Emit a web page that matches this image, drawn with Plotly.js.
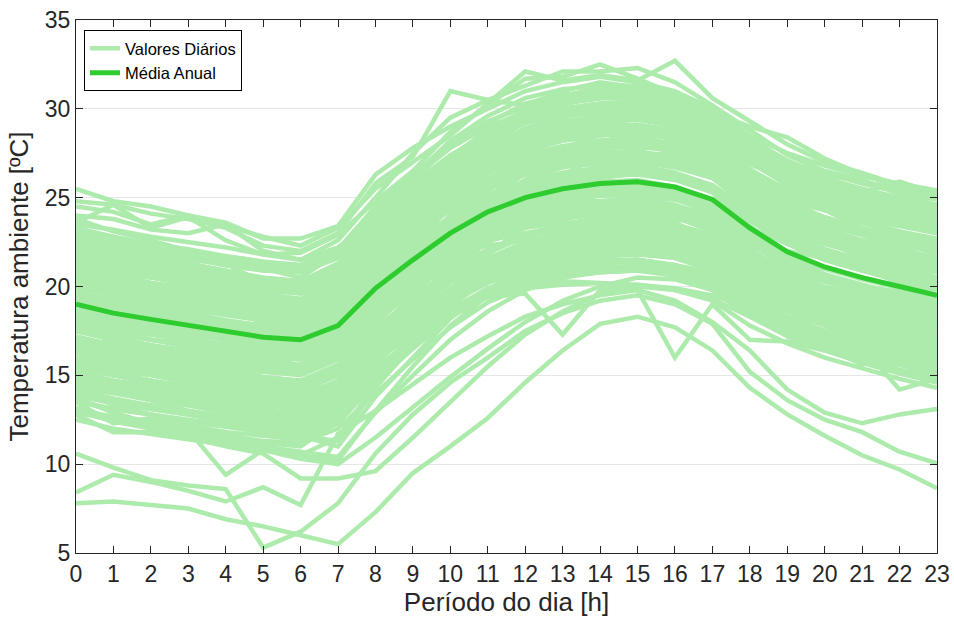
<!DOCTYPE html>
<html>
<head>
<meta charset="utf-8">
<script src="https://cdn.plot.ly/plotly-3.0.1.min.js"></script>
<style>html,body{margin:0;padding:0;background:#fff;}#chart{width:954px;height:623px;}</style>
</head>
<body>
<div id="chart"></div>
<script>
// Hours of the day
const hours = [0,1,2,3,4,5,6,7,8,9,10,11,12,13,14,15,16,17,18,19,20,21,22,23];
const hourTicks = ["0","1","2","3","4","5","6","7","8","9","10","11","12","13","14","15","16","17","18","19","20","21","22","23"];

// Annual mean (Média Anual)
const annualMean = [19.0,18.5,18.15,17.8,17.45,17.15,17.0,17.8,19.9,21.5,23.0,24.2,25.0,25.5,25.8,25.9,25.6,24.9,23.3,21.95,21.1,20.5,20.0,19.5];

// Daily values (Valores Diários) — each row is one day
const dailyHot = [
  [25.5,24.8,24.5,24.0,23.6,22.7,22.7,23.4,26.3,27.8,29.0,30.0,31.0,31.5,31.8,31.5,31.0,30.0,28.5,27.5,26.8,26.2,25.8,25.4],
  [24.8,24.6,24.1,23.8,23.3,22.3,22.0,23.0,25.8,27.3,31.0,30.5,30.2,31.0,31.5,31.2,30.5,29.8,29.0,28.4,27.2,26.3,25.6,25.0],
  [24.5,24.2,23.5,24.0,23.4,22.8,22.3,23.3,25.5,27.0,28.5,30.3,32.1,31.6,31.9,31.6,32.7,30.6,29.3,28.0,27.0,26.4,25.7,25.0],
  [24.0,23.8,23.2,23.0,23.5,22.0,21.5,22.6,25.0,27.5,29.5,30.5,31.3,32.1,32.1,32.3,31.5,30.2,28.8,27.4,26.5,26.0,25.2,24.6],
  [23.6,24.6,23.3,23.9,22.6,21.8,21.9,22.9,24.8,26.5,28.7,30.2,31.7,31.8,32.5,31.7,30.8,29.7,28.3,27.1,26.2,25.3,25.9,25.2]
];
const dailyCold = [
  [10.6,9.8,9.1,8.8,8.6,5.3,6.2,7.8,10.6,12.8,14.6,16.0,17.5,18.5,19.2,19.5,19.0,17.9,15.2,13.6,12.5,11.8,10.7,10.05],
  [8.4,9.4,9.0,8.5,7.9,8.7,7.7,11.7,13.0,14.5,16.0,17.2,18.3,19.0,19.5,19.8,19.2,18.0,16.4,14.2,12.9,12.3,12.8,13.1],
  [7.8,7.9,7.7,7.5,6.9,6.5,6.0,5.5,7.3,9.5,11.0,12.6,14.6,16.4,17.9,18.3,17.7,16.4,14.3,12.8,11.6,10.5,9.7,8.65]
];
const dailyCore = [
  [22.8,22.4,21.9,21.6,21.2,20.9,20.8,21.6,23.8,25.6,27.2,28.5,29.4,30.0,30.3,30.4,30.0,29.2,27.6,26.4,25.6,25.0,24.5,24.0],
  [23.2,22.5,22.3,21.8,21.5,21.0,20.5,21.9,24.5,26.0,27.9,29.2,30.3,30.8,31.0,31.0,30.5,29.5,28.0,26.8,25.9,25.3,24.6,24.2],
  [22.0,21.7,21.4,21.2,20.7,20.4,20.1,21.0,23.0,24.8,26.4,27.6,28.6,29.2,29.6,29.7,29.3,28.6,27.0,25.7,24.9,24.3,23.8,23.3],
  [21.5,21.0,20.6,20.4,20.0,19.8,19.6,20.3,22.5,24.1,25.8,27.1,28.0,28.6,28.9,29.0,28.7,28.0,26.4,25.1,24.3,23.7,23.1,22.7],
  [23.0,22.8,22.1,21.5,21.3,20.2,20.0,21.2,24.0,25.2,26.8,28.0,28.8,29.3,29.5,29.4,29.0,28.4,26.9,26.0,25.1,24.6,24.2,23.8],
  [20.8,20.4,20.1,19.8,19.5,19.2,19.0,19.8,21.9,23.5,25.1,26.4,27.3,27.9,28.2,28.3,28.0,27.3,25.7,24.4,23.5,22.9,22.4,21.9],
  [21.8,21.2,20.8,20.2,19.9,19.5,19.3,20.4,22.8,24.6,26.3,27.4,28.3,28.9,29.3,29.0,28.5,27.5,25.9,24.6,23.9,23.2,22.6,22.0],
  [20.2,19.9,19.6,19.3,19.0,18.7,18.5,19.3,21.3,22.9,24.4,25.6,26.5,27.0,27.3,27.4,27.1,26.4,24.8,23.5,22.6,22.0,21.5,21.0],
  [19.6,19.3,19.0,18.7,18.4,18.1,17.9,18.7,20.8,22.3,23.8,25.1,25.9,26.4,26.7,26.8,26.4,25.7,24.1,22.8,22.0,21.4,20.9,20.4],
  [20.5,19.7,19.3,19.1,18.6,18.4,18.3,19.1,21.0,22.7,24.6,25.8,26.8,27.5,27.8,28.0,27.6,26.7,25.2,23.7,22.7,22.3,21.7,21.3],
  [18.6,18.2,17.8,17.6,17.2,16.9,16.8,17.6,19.7,21.3,22.8,24.0,24.8,25.3,25.6,25.7,25.4,24.7,23.1,21.8,21.0,20.4,19.9,19.4],
  [18.0,17.6,17.3,17.0,16.6,16.3,16.2,17.1,19.2,20.8,22.4,23.6,24.5,24.9,25.2,25.3,25.0,24.3,22.7,21.4,20.6,20.0,19.4,19.0],
  [17.5,17.2,16.7,16.4,16.1,15.8,15.6,16.5,18.6,20.3,21.9,23.0,23.9,24.4,24.7,24.8,24.4,23.7,22.1,20.8,20.0,19.4,18.9,18.5],
  [16.9,16.5,16.1,15.9,15.5,15.2,15.0,15.9,18.0,19.7,21.3,22.5,23.3,23.8,24.1,24.2,23.9,23.1,21.6,20.2,19.4,18.8,18.3,17.9],
  [16.3,15.9,15.6,15.2,14.9,14.6,14.4,15.3,17.5,19.1,20.7,21.9,22.8,23.3,23.6,23.6,23.3,22.6,21.0,19.7,18.9,18.3,17.8,17.4],
  [15.7,15.3,15.0,14.6,14.3,14.0,13.8,14.7,16.9,18.6,20.2,21.4,22.2,22.8,23.0,23.1,22.7,22.0,20.5,19.2,18.4,17.8,17.3,16.8],
  [15.1,14.7,14.4,14.1,13.7,13.4,13.2,14.1,16.3,18.0,19.6,20.8,21.7,22.2,22.5,22.5,22.2,21.5,20.0,18.7,17.9,17.3,16.8,16.3],
  [14.6,14.2,13.9,13.5,13.1,12.8,12.6,13.5,15.7,17.5,19.1,20.3,21.2,21.7,22.0,22.0,21.7,21.0,19.5,18.3,17.5,16.9,16.3,15.8],
  [14.1,13.6,13.3,12.9,12.6,12.3,12.1,13.0,15.2,17.0,18.7,19.9,20.7,21.2,21.5,21.5,21.2,20.6,19.1,17.9,17.1,16.5,15.9,15.4],
  [13.6,13.1,12.8,12.4,12.1,11.8,11.6,12.5,14.8,16.6,18.3,19.5,20.3,20.8,21.1,21.1,20.8,20.2,18.8,17.6,16.8,16.2,15.6,15.1]
];
const dailyCore2 = [
  [22.5,22.0,21.5,21.1,20.6,20.2,19.9,20.5,22.3,23.6,24.8,25.8,26.4,26.8,27.0,27.0,26.7,26.1,24.8,23.7,23.0,22.5,22.0,21.5],
  [21.2,20.7,20.2,19.8,19.3,18.9,18.6,19.0,20.6,21.8,22.9,23.7,24.2,24.5,24.6,24.5,24.0,23.2,21.4,19.9,18.9,18.2,17.6,17.0],
  [18.0,17.6,17.3,17.0,16.7,16.5,16.4,17.4,19.9,21.9,23.8,25.4,26.6,27.4,27.9,28.2,28.1,27.6,26.3,25.2,24.6,24.1,23.7,23.3],
  [15.0,14.6,14.3,14.0,13.7,13.5,13.4,14.4,16.8,18.7,20.5,21.9,22.9,23.5,23.9,24.1,23.9,23.4,22.0,20.9,20.3,19.8,19.5,19.2],
  [20.0,19.6,19.3,19.0,18.8,18.5,18.4,19.4,22.0,24.0,25.9,27.4,28.5,29.2,29.7,29.8,29.5,28.8,27.2,25.9,25.0,24.3,23.7,23.1],
  [16.0,15.5,15.1,14.8,14.4,14.1,13.9,14.6,16.4,17.8,19.1,20.2,20.9,21.4,21.7,21.8,21.6,20.9,19.5,18.3,17.5,17.0,16.5,16.0],
  [23.0,22.6,22.3,22.0,21.7,21.4,21.2,22.1,24.5,26.3,28.0,29.3,30.1,30.6,30.9,31.0,30.7,30.0,28.4,27.0,26.1,25.5,25.0,24.5],
  [17.0,16.6,16.2,15.9,15.6,15.3,15.2,16.1,18.6,20.4,22.2,23.7,24.8,25.6,26.1,26.4,26.3,25.7,24.3,23.2,22.6,22.1,21.7,21.4],
  [19.0,18.4,17.9,17.4,17.0,16.6,16.3,16.8,18.4,19.6,20.7,21.5,22.0,22.4,22.5,22.4,22.0,21.2,19.4,17.9,16.9,16.2,15.6,15.0],
  [22.0,21.4,20.9,20.5,20.0,19.6,19.3,19.8,21.5,22.7,23.8,24.6,25.2,25.5,25.7,25.7,25.3,24.5,22.8,21.3,20.3,19.6,19.1,18.6],
  [14.0,13.6,13.3,13.0,12.7,12.4,12.2,13.3,15.9,17.9,19.8,21.2,22.1,22.6,22.9,23.0,22.8,22.2,20.8,19.7,19.0,18.5,18.0,17.6],
  [20.6,20.1,19.6,19.4,19.0,18.6,18.5,19.2,21.2,22.9,24.6,25.8,26.5,27.1,27.3,27.4,27.0,26.3,24.8,23.5,22.6,21.9,21.4,21.0],
  [17.5,17.0,16.7,16.3,16.0,15.6,15.5,16.3,18.4,20.0,21.5,22.7,23.5,24.0,24.3,24.4,24.1,23.4,21.8,20.5,19.6,19.0,18.5,18.0],
  [19.7,19.2,18.9,18.5,18.1,17.8,17.7,18.5,20.6,22.2,23.7,24.9,25.7,26.2,26.5,26.6,26.3,25.6,24.0,22.7,21.8,21.2,20.7,20.2],
  [18.3,17.8,17.4,17.1,16.7,16.4,16.3,17.1,19.2,20.8,22.3,23.5,24.3,24.8,25.1,25.2,24.9,24.2,22.6,21.3,20.4,19.8,19.3,18.8],
  [21.8,21.3,20.9,20.6,20.2,19.9,19.8,20.6,22.7,24.3,25.8,27.0,27.8,28.3,28.6,28.7,28.4,27.7,26.1,24.8,23.9,23.3,22.8,22.3],
  [16.3,15.8,15.4,15.1,14.7,14.4,14.3,15.1,17.2,18.8,20.3,21.5,22.3,22.8,23.1,23.2,22.9,22.2,20.6,19.3,18.4,17.8,17.3,16.8],
  [15.2,14.7,14.3,14.0,13.6,13.3,13.2,14.0,16.1,17.7,19.2,20.4,21.2,21.7,22.0,22.1,21.8,21.1,19.5,18.2,17.3,16.7,16.2,15.7],
  [22.8,22.3,21.9,21.6,21.2,20.9,20.8,21.7,24.0,25.8,27.4,28.6,29.5,30.0,30.3,30.4,30.1,29.3,27.7,26.3,25.4,24.7,24.2,23.6],
  [14.2,13.7,13.3,13.0,12.6,12.3,12.2,13.1,15.3,17.0,18.6,19.8,20.6,21.1,21.4,21.5,21.2,20.5,19.0,17.7,16.8,16.2,15.7,15.2]
];
const dailyCore3 = [
  [20.0,19.5,19.1,18.8,18.4,18.1,18.0,18.4,19.8,21.0,22.0,22.6,23.0,23.4,23.7,23.9,23.8,23.4,22.3,21.5,21.0,20.5,20.0,19.5],
  [18.7,18.3,17.9,17.5,17.2,16.9,16.8,17.8,20.6,22.8,24.9,26.4,27.4,27.9,28.1,28.1,27.7,26.8,24.8,23.0,21.8,21.0,20.5,20.0],
  [21.0,20.5,20.1,19.8,19.4,19.1,19.0,19.9,22.3,24.2,26.0,27.5,28.5,29.0,29.3,29.4,29.1,28.3,26.4,24.8,23.7,22.9,22.2,21.5],
  [15.5,15.1,14.7,14.4,14.1,13.8,13.6,14.7,17.3,19.6,21.8,23.5,24.8,25.6,26.1,26.4,26.2,25.7,24.1,22.9,22.1,21.5,21.0,20.5],
  [21.5,21.0,20.6,20.2,19.8,19.4,19.2,19.8,21.4,22.6,23.6,24.2,24.6,24.8,24.8,24.6,24.1,23.2,21.4,19.9,18.9,18.3,17.8,17.3],
  [13.5,13.1,12.8,12.5,12.2,11.9,11.7,12.7,15.2,17.2,19.0,20.4,21.2,21.7,22.0,22.1,21.9,21.4,20.1,19.0,18.4,17.9,17.5,17.0],
  [19.5,19.0,18.7,18.4,18.0,17.8,17.7,18.9,21.8,24.2,26.5,28.3,29.6,30.4,30.8,30.9,30.5,29.6,27.5,25.7,24.5,23.6,23.0,22.5],
  [16.8,16.3,15.9,15.5,15.2,14.8,14.7,15.3,17.0,18.3,19.5,20.5,21.1,21.5,21.8,21.9,21.7,21.2,19.9,19.0,18.5,18.2,18.0,17.8],
  [22.2,21.7,21.4,21.0,20.6,20.3,20.2,20.9,22.7,24.1,25.4,26.4,27.1,27.6,27.9,28.0,27.8,27.3,26.0,25.3,24.8,24.4,24.2,24.0],
  [14.7,14.2,13.9,13.6,13.3,13.0,12.9,13.6,15.5,16.9,18.3,19.4,20.1,20.6,20.8,20.9,20.7,20.2,18.9,17.9,17.4,17.1,16.9,16.5],
  [19.3,18.9,18.5,18.2,17.8,17.5,17.3,18.2,20.3,22.0,23.5,24.7,25.5,26.0,26.3,26.4,26.1,25.4,23.8,22.4,21.5,20.9,20.4,19.9],
  [17.9,17.4,17.0,16.7,16.4,16.1,15.9,16.7,18.8,20.4,21.9,23.0,23.8,24.3,24.5,24.6,24.3,23.6,22.0,20.7,19.9,19.3,18.8,18.3],
  [21.4,20.9,20.5,20.1,19.7,19.4,19.2,20.0,22.1,23.7,25.2,26.4,27.2,27.7,28.0,28.1,27.8,27.1,25.5,24.2,23.3,22.6,22.1,21.6],
  [16.6,16.2,15.8,15.5,15.1,14.8,14.6,15.4,17.6,19.3,20.9,22.1,22.9,23.4,23.7,23.8,23.5,22.8,21.2,19.9,19.1,18.5,18.0,17.5],
  [23.3,22.8,22.4,22.1,21.7,21.4,21.2,22.0,24.3,26.1,27.8,29.0,29.8,30.3,30.6,30.7,30.4,29.6,28.0,26.6,25.7,25.0,24.5,24.0],
  [15.4,15.0,14.6,14.2,13.9,13.6,13.4,14.3,16.6,18.3,19.9,21.1,21.9,22.4,22.7,22.8,22.5,21.8,20.2,18.9,18.1,17.5,17.0,16.5],
  [20.4,20.0,19.6,19.2,18.9,18.6,18.4,19.2,21.4,23.0,24.6,25.9,26.7,27.2,27.5,27.6,27.3,26.6,25.0,23.7,22.8,22.2,21.7,21.2],
  [18.2,17.9,17.6,17.3,17.0,16.8,16.6,17.6,20.1,22.1,24.0,25.6,26.8,27.5,28.0,28.2,27.9,27.1,25.3,23.8,22.8,22.1,21.5,21.0],
  [22.6,22.1,21.6,21.2,20.8,20.4,20.1,20.7,22.4,23.8,25.0,26.0,26.5,26.8,26.9,26.8,26.4,25.6,23.9,22.5,21.6,20.9,20.4,19.9],
  [14.4,14.0,13.6,13.3,12.9,12.6,12.4,13.4,15.9,17.9,19.8,21.3,22.3,22.9,23.3,23.4,23.1,22.4,20.8,19.5,18.6,17.9,17.3,16.8]
];
const dailyCore4 = [
  [23.8,23.1,22.6,22.0,21.6,21.2,21.0,21.8,23.6,25.0,26.5,27.7,28.6,29.1,29.5,29.6,29.2,28.5,27.0,25.8,25.0,24.4,23.9,23.5],
  [22.3,21.9,21.6,21.3,20.9,20.5,20.3,21.1,23.3,25.1,26.8,28.2,29.2,29.8,30.2,30.3,29.9,29.0,27.3,26.0,25.1,24.5,24.0,23.6],
  [21.7,21.2,20.9,20.5,20.2,19.9,19.7,20.5,22.6,24.3,25.9,27.2,28.1,28.7,29.0,29.1,28.8,28.1,26.6,25.4,24.6,24.0,23.5,23.0],
  [21.0,20.6,20.2,19.9,19.6,19.3,19.1,19.9,22.1,23.8,25.4,26.7,27.6,28.2,28.5,28.6,28.3,27.6,26.0,24.7,23.8,23.2,22.7,22.2],
  [20.6,20.2,19.9,19.5,19.2,18.9,18.8,19.6,21.7,23.3,24.9,26.1,27.0,27.5,27.8,27.9,27.6,26.9,25.3,24.0,23.1,22.5,22.0,21.5],
  [19.9,19.5,19.2,18.9,18.6,18.3,18.1,18.9,21.1,22.8,24.3,25.5,26.3,26.8,27.1,27.2,26.9,26.2,24.6,23.3,22.4,21.8,21.2,20.8],
  [19.2,18.7,18.4,18.1,17.7,17.4,17.2,18.1,20.2,21.8,23.3,24.5,25.3,25.9,26.2,26.3,26.0,25.3,23.7,22.4,21.5,20.9,20.3,19.8],
  [18.4,18.0,17.6,17.3,17.0,16.7,16.5,17.4,19.5,21.1,22.6,23.8,24.6,25.1,25.4,25.5,25.2,24.5,22.9,21.6,20.7,20.1,19.6,19.1],
  [17.8,17.4,17.0,16.8,16.4,16.1,15.9,16.8,18.9,20.5,22.0,23.2,24.0,24.5,24.8,24.9,24.6,23.9,22.4,21.1,20.3,19.7,19.2,18.7],
  [17.2,16.7,16.4,16.1,15.8,15.5,15.3,16.2,18.3,19.9,21.4,22.6,23.4,23.9,24.2,24.3,24.0,23.3,21.8,20.5,19.7,19.1,18.6,18.2],
  [16.6,16.1,15.8,15.5,15.2,14.9,14.7,15.6,17.7,19.3,20.8,22.0,22.8,23.3,23.6,23.7,23.4,22.7,21.2,20.0,19.2,18.6,18.1,17.7],
  [16.0,15.6,15.2,14.9,14.6,14.3,14.1,15.0,17.1,18.8,20.3,21.5,22.3,22.8,23.1,23.2,22.9,22.2,20.7,19.5,18.7,18.1,17.6,17.1],
  [15.4,15.0,14.7,14.3,14.0,13.7,13.5,14.4,16.5,18.2,19.8,21.0,21.8,22.3,22.6,22.7,22.4,21.7,20.2,19.0,18.2,17.6,17.1,16.6],
  [14.9,14.4,14.1,13.8,13.4,13.1,12.9,13.8,16.0,17.7,19.3,20.5,21.4,21.9,22.2,22.3,22.0,21.3,19.8,18.6,17.8,17.2,16.6,16.1],
  [13.9,13.4,13.1,12.8,12.4,12.1,11.9,12.8,15.1,16.9,18.6,19.8,20.6,21.1,21.4,21.5,21.2,20.6,19.2,18.0,17.2,16.6,16.0,15.5]
];
const dailyMixed = [
  [20.8,20.0,19.3,18.6,18.0,17.4,17.0,17.9,20.4,22.6,24.7,26.4,27.7,28.5,29.0,29.1,28.7,27.8,25.9,24.3,23.2,22.4,21.8,21.2],
  [16.4,16.1,15.9,15.7,15.5,15.3,15.2,16.3,19.0,21.2,23.2,24.8,26.0,26.7,27.1,27.2,26.9,26.1,24.4,23.0,22.1,21.4,20.8,20.3],
  [18.8,18.5,18.3,18.0,17.8,17.6,17.5,18.6,21.3,23.5,25.6,27.2,28.3,29.0,29.4,29.5,29.1,28.3,26.6,25.2,24.3,23.6,23.1,22.6],
  [22.0,21.7,21.3,21.0,20.7,20.4,20.3,20.9,22.3,23.4,24.4,25.2,25.8,26.2,26.4,26.4,26.1,25.5,24.2,23.1,22.4,21.9,21.4,21.0],
  [17.7,17.0,16.4,15.9,15.4,14.9,14.6,15.3,17.3,18.9,20.4,21.6,22.5,23.1,23.5,23.7,23.5,22.9,21.6,20.5,19.8,19.3,18.9,18.5],
  [15.8,15.5,15.3,15.0,14.8,14.6,14.5,15.4,17.9,20.0,22.0,23.6,24.8,25.5,25.9,26.0,25.6,24.8,23.0,21.5,20.5,19.8,19.2,18.7],
  [20.9,20.5,20.2,19.9,19.6,19.3,19.2,20.2,22.8,25.0,27.0,28.6,29.7,30.3,30.6,30.6,30.2,29.4,27.6,26.1,25.1,24.4,23.9,23.4],
  [19.1,18.6,18.1,17.7,17.3,16.9,16.6,17.2,18.9,20.3,21.7,22.9,23.8,24.4,24.8,25.0,24.9,24.5,23.3,22.4,21.9,21.5,21.2,20.9],
  [14.3,14.0,13.7,13.5,13.2,13.0,12.9,14.0,16.7,18.9,21.0,22.7,24.0,24.9,25.4,25.6,25.3,24.5,22.8,21.3,20.3,19.6,19.0,18.5],
  [23.0,22.4,21.8,21.3,20.8,20.4,20.1,20.8,22.7,24.2,25.6,26.8,27.7,28.3,28.7,28.8,28.4,27.6,25.8,24.3,23.2,22.4,21.8,21.2],
  [21.6,21.3,21.0,20.7,20.4,20.1,20.0,20.9,23.4,25.4,27.3,28.8,29.9,30.5,30.8,30.8,30.4,29.5,27.7,26.2,25.2,24.5,24.0,23.5],
  [22.9,22.5,22.1,21.8,21.4,21.1,20.9,21.8,24.2,26.2,28.2,29.6,30.6,31.1,31.3,31.3,30.9,30.1,28.4,27.0,26.0,25.3,24.8,24.3],
  [20.1,19.8,19.5,19.2,18.9,18.6,18.5,19.5,22.1,24.2,26.2,27.8,28.9,29.6,30.0,30.1,29.8,29.0,27.4,26.0,25.1,24.5,24.0,23.6],
  [13.0,12.7,12.4,12.1,11.8,11.6,11.4,12.3,14.6,16.5,18.3,19.6,20.4,20.8,21.0,21.0,20.7,20.1,18.7,17.5,16.7,16.1,15.6,15.2],
  [12.9,12.5,12.2,11.9,11.6,11.3,11.2,12.0,14.0,15.9,17.7,19.1,20.0,20.5,20.8,20.9,20.6,20.0,18.5,17.2,16.4,15.8,15.3,14.9]
];
const dailyWideRange = [
  [15.5,15.0,14.6,14.2,13.8,13.5,13.2,14.5,17.8,20.5,23.0,25.0,26.6,27.8,28.5,28.8,28.5,27.6,25.5,23.8,22.6,21.6,20.8,20.0],
  [14.0,13.5,13.1,12.8,12.4,12.0,11.8,13.2,16.8,19.8,22.6,24.8,26.4,27.5,28.2,28.4,28.0,27.0,25.0,23.3,22.0,21.0,20.2,19.5],
  [16.5,16.0,15.4,15.0,14.6,14.3,14.0,15.5,19.0,22.0,24.6,26.6,28.0,29.0,29.6,29.8,29.3,28.3,26.2,24.5,23.3,22.3,21.5,20.8],
  [13.0,12.4,12.0,11.8,11.5,11.2,11.0,12.4,15.8,18.6,21.2,23.3,24.8,25.8,26.4,26.6,26.2,25.3,23.4,21.8,20.6,19.7,18.9,18.2],
  [17.5,17.0,16.6,16.2,15.8,15.5,15.3,16.8,20.5,23.5,26.0,27.9,29.3,30.2,30.8,30.9,30.4,29.4,27.3,25.6,24.3,23.3,22.5,21.8],
  [12.5,12.0,11.7,11.4,11.1,10.8,10.5,11.5,14.5,17.2,19.8,21.8,23.4,24.5,25.2,25.4,25.0,24.0,22.0,20.4,19.2,18.3,17.5,16.9],
  [18.5,18.0,17.5,17.0,16.6,16.2,16.0,17.4,21.0,24.0,26.6,28.5,29.9,30.7,31.2,31.1,30.6,29.6,27.6,25.9,24.6,23.6,22.9,22.2]
];
const dailyNarrowRange = [
  [22.5,22.2,22.0,21.7,21.5,21.3,21.2,21.7,22.8,23.7,24.5,25.0,25.4,25.6,25.7,25.7,25.4,24.9,24.0,23.3,22.9,22.6,22.3,22.0],
  [21.0,20.8,20.5,20.3,20.1,19.9,19.8,20.3,21.4,22.2,23.0,23.5,23.9,24.1,24.2,24.2,23.9,23.4,22.6,22.0,21.6,21.3,21.0,20.8],
  [20.0,19.7,19.4,19.2,19.0,18.8,18.6,19.1,20.2,21.0,21.8,22.3,22.6,22.8,22.9,22.8,22.6,22.1,21.3,20.7,20.3,20.0,19.7,19.4],
  [18.5,18.3,18.1,17.9,17.7,17.5,17.4,17.9,19.0,19.8,20.5,21.0,21.3,21.5,21.5,21.4,21.2,20.8,20.1,19.6,19.2,18.9,18.6,18.4],
  [23.5,23.2,22.8,22.5,22.2,21.8,21.5,22.2,23.8,25.0,26.0,26.7,27.2,27.5,27.6,27.6,27.2,26.7,25.6,24.8,24.3,23.9,23.6,23.3],
  [17.0,16.8,16.6,16.4,16.2,16.0,15.9,16.5,17.8,18.8,19.7,20.3,20.7,20.9,21.0,20.9,20.7,20.3,19.6,19.0,18.6,18.3,18.0,17.7],
  [16.0,15.8,15.5,15.3,15.1,14.9,14.7,15.3,16.8,17.9,18.9,19.5,19.9,20.1,20.2,20.1,19.9,19.5,18.8,18.3,17.9,17.6,17.3,17.0]
];
const dailyTrend = [
  [14.5,14.2,13.8,13.5,13.2,12.9,12.7,13.8,16.8,19.0,21.3,23.3,25.0,26.3,27.3,27.8,27.8,27.3,26.0,25.0,24.3,23.8,23.4,23.0],
  [22.0,21.6,21.2,20.8,20.4,20.0,19.7,20.4,22.0,23.2,24.3,25.0,25.4,25.5,25.3,24.9,24.2,23.2,21.5,20.0,19.0,18.2,17.5,16.8],
  [21.0,20.4,19.8,19.2,18.6,18.0,17.6,18.2,20.0,21.3,22.6,23.5,24.0,24.2,24.0,23.6,23.0,22.0,20.3,18.9,17.9,17.1,16.4,15.8],
  [13.8,13.5,13.2,12.9,12.6,12.3,12.1,13.2,16.0,18.3,20.6,22.6,24.3,25.7,26.8,27.4,27.5,27.0,25.6,24.4,23.6,23.0,22.6,22.2],
  [19.5,19.0,18.3,17.6,16.9,16.2,15.5,16.3,18.4,20.0,21.5,22.6,23.3,23.6,23.6,23.3,22.8,22.0,20.5,19.3,18.5,17.8,17.2,16.6],
  [16.0,15.8,15.6,15.5,15.3,15.2,15.1,16.0,18.5,20.6,22.7,24.5,26.0,27.2,28.1,28.7,28.9,28.6,27.4,26.3,25.5,24.9,24.4,24.0],
  [15.0,14.6,14.2,13.8,13.4,13.0,12.7,13.5,15.8,17.5,19.3,20.6,21.6,22.3,22.7,22.9,22.7,22.1,20.6,19.3,18.4,17.6,16.9,16.2]
];
const dailyCoolMorning = [
  [12.8,11.8,11.8,11.7,11.2,10.8,10.5,10.2,13.0,15.5,17.8,19.5,20.5,21.0,21.3,21.4,21.0,20.3,18.8,17.6,16.8,16.0,15.3,14.8],
  [13.5,12.3,12.6,12.0,11.4,11.0,10.7,10.4,12.9,15.0,17.0,18.6,19.8,20.5,21.0,21.2,20.9,20.2,18.5,17.3,16.5,15.9,15.2,14.6],
  [14.5,13.3,12.8,12.2,11.8,11.0,11.6,11.3,14.3,16.7,18.9,20.4,21.5,22.1,22.4,22.5,22.0,21.2,19.4,18.0,17.1,16.4,15.8,15.2],
  [13.7,12.9,12.3,11.9,9.4,10.8,10.3,10.0,11.5,13.2,14.9,16.5,18.0,19.2,20.0,20.5,20.4,19.8,18.3,17.2,16.4,15.7,15.1,14.6],
  [13.2,12.6,12.0,11.5,11.0,10.6,9.2,9.2,9.6,11.5,13.5,15.5,17.3,18.6,19.6,20.0,19.8,19.2,17.8,16.8,16.0,15.4,14.8,14.3],
  [14.8,14.2,13.6,13.0,12.5,12.1,11.6,11.0,13.8,16.0,18.2,19.8,21.0,21.7,22.2,22.3,21.9,21.1,19.5,18.2,17.3,16.6,16.0,15.5],
  [15.3,14.4,13.8,13.4,13.0,12.6,12.4,12.8,15.0,17.3,19.4,20.8,22.0,22.6,23.0,23.1,22.6,21.9,20.2,18.9,18.0,17.3,16.7,16.1]
];
const dailyIrregular = [
  [16.5,16.0,15.5,15.0,14.7,14.3,14.0,14.6,16.5,17.8,18.9,19.4,19.6,17.3,19.8,20.1,19.8,19.3,18.3,17.6,17.1,16.8,16.4,16.0],
  [15.8,15.2,14.7,14.2,13.8,13.4,13.1,13.8,15.8,17.3,18.6,19.4,20.0,20.3,20.2,19.8,16.0,19.0,17.0,16.9,16.4,16.0,15.6,15.2],
  [17.5,17.0,16.6,16.2,15.9,15.6,15.4,16.3,18.5,20.2,21.8,22.9,23.6,23.9,24.0,23.6,22.7,21.0,18.5,17.3,16.6,15.6,16.3,15.0],
  [18.0,17.5,17.0,16.6,16.2,15.8,15.5,16.4,18.7,20.5,22.0,23.1,23.9,24.3,24.4,24.2,23.6,22.6,20.5,19.0,17.8,16.6,14.2,14.8],
  [19.0,18.6,18.2,17.8,17.4,17.0,16.8,17.6,19.8,21.4,22.8,23.8,24.4,24.7,24.7,24.3,23.5,22.2,19.9,18.2,17.0,16.0,15.2,14.6]
];
const dailyWarmEvening = [
  [21.0,20.8,20.5,20.3,20.0,19.8,19.7,20.6,23.0,24.8,26.6,27.9,28.9,29.5,29.9,30.0,29.7,29.1,27.8,26.9,26.3,25.9,25.5,25.2],
  [20.3,20.2,20.0,19.7,19.4,19.0,18.8,19.8,22.2,24.0,25.7,27.0,28.0,28.7,29.2,29.4,29.2,28.6,27.2,26.2,25.6,25.2,24.8,24.6],
  [22.5,22.0,21.5,21.2,20.8,20.5,20.3,21.3,23.6,25.4,27.0,28.3,29.2,29.8,30.1,30.2,29.9,29.4,28.0,27.0,26.4,25.8,25.3,24.9]
];

const dailyGroups = [dailyHot, dailyCold, dailyCore, dailyCore2, dailyCore3, dailyCore4, dailyMixed, dailyWideRange, dailyNarrowRange, dailyTrend, dailyCoolMorning, dailyIrregular, dailyWarmEvening];

const lightGreen = "rgb(173,235,173)";
const darkGreen = "rgb(46,204,46)";

const traces = [];
let first = true;
dailyGroups.forEach(group => {
  group.forEach(day => {
    traces.push({
      x: hours, y: day, type: "scatter", mode: "lines",
      line: {color: lightGreen, width: 4.5},
      name: "Valores Diários",
      showlegend: first,
      legendgroup: "daily",
      hoverinfo: "skip"
    });
    first = false;
  });
});
traces.push({
  x: hours, y: annualMean, type: "scatter", mode: "lines",
  line: {color: darkGreen, width: 5},
  name: "Média Anual",
  showlegend: true,
  hoverinfo: "skip"
});

const fontFam = "Liberation Sans, Arial, Helvetica, sans-serif";
const axisColor = "#262626";

const layout = {
  width: 954, height: 623,
  margin: {l: 76, r: 17, t: 20, b: 70},
  paper_bgcolor: "#ffffff",
  plot_bgcolor: "#ffffff",
  font: {family: fontFam, color: axisColor},
  showlegend: true,
  legend: {
    x: 0.0093, y: 0.981, xanchor: "left", yanchor: "top",
    bgcolor: "#ffffff", bordercolor: "#000000", borderwidth: 1,
    font: {family: fontFam, size: 16.5, color: "#000000"},
    tracegroupgap: 0,
    itemwidth: 30
  },
  xaxis: {
    range: [0, 23],
    tickmode: "array", tickvals: hours, ticktext: hourTicks,
    ticks: "inside", ticklen: 7, tickcolor: axisColor, tickwidth: 1,
    showline: true, linecolor: axisColor, linewidth: 1, mirror: "ticks",
    showgrid: false, zeroline: false,
    tickfont: {family: fontFam, size: 23, color: axisColor},
    title: {text: "Período do dia [h]", font: {family: fontFam, size: 26, color: axisColor}, standoff: 6}
  },
  yaxis: {
    range: [5, 35],
    tickmode: "linear", tick0: 5, dtick: 5,
    ticks: "inside", ticklen: 7, tickcolor: axisColor, tickwidth: 1,
    showline: true, linecolor: axisColor, linewidth: 1, mirror: "ticks",
    showgrid: true, gridcolor: "#e6e6e6", gridwidth: 1,
    zeroline: false,
    tickfont: {family: fontFam, size: 23, color: axisColor},
    title: {text: "Temperatura ambiente [ºC]", font: {family: fontFam, size: 26, color: axisColor}, standoff: 8}
  }
};

Plotly.newPlot("chart", traces, layout, {staticPlot: true, displayModeBar: false});
</script>
</body>
</html>
